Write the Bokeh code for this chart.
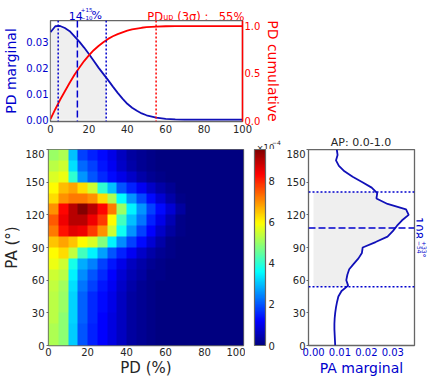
import numpy as np
from bokeh.plotting import figure
from bokeh.layouts import column, row
from bokeh.models import (Range1d, LinearAxis, LinearColorMapper, ColorBar,
                          FixedTicker, Span, NumeralTickFormatter)
from bokeh.core.properties import value
from bokeh.embed import file_html
from bokeh.resources import INLINE

# ------------------------------------------------------------------ data
# PD marginal and cumulative (top panel)
pd_grid = [0, 2.5, 5, 7.5, 10, 12.5, 15, 17.5, 20, 22.5, 25, 27.5, 30, 32.5, 35,
           37.5, 40, 42.5, 45, 47.5, 50, 55, 60, 65, 70, 80, 90, 100]
pd_marginal = [0.0336, 0.0359, 0.0360, 0.0352, 0.0340, 0.0320, 0.0300, 0.0277,
               0.0252, 0.0226, 0.0200, 0.0176, 0.0152, 0.0127, 0.0103, 0.0081,
               0.0061, 0.0046, 0.0034, 0.0024, 0.0017, 0.0008, 0.0003, 0.0001,
               0.0, 0.0, 0.0, 0.0]
pd_cumulative = [0.015, 0.12, 0.22, 0.31, 0.40, 0.485, 0.56, 0.63, 0.69, 0.745,
                 0.79, 0.83, 0.865, 0.893, 0.916, 0.935, 0.952, 0.965, 0.975,
                 0.983, 0.989, 0.996, 0.999, 1.0, 1.0, 1.0, 1.0, 1.0]
pd_med, pd_lo, pd_hi, pd_up = 14, 4, 29, 55

# PA marginal (right panel)
pa_grid = list(range(0, 181, 5))
pa_marginal = [0.0082, 0.0081, 0.0080, 0.0079, 0.0079, 0.0080, 0.0082, 0.0085,
               0.0089, 0.0094, 0.0106, 0.0131, 0.0124, 0.0128, 0.0135, 0.0152,
               0.0170, 0.0183, 0.0186, 0.0235, 0.0280, 0.0300, 0.0316, 0.0335,
               0.0360, 0.0350, 0.0280, 0.0238, 0.0241, 0.0220, 0.0185, 0.0148,
               0.0117, 0.0096, 0.0085, 0.0091, 0.0088]
pa_med, pa_lo, pa_hi = 108, 54, 141

# joint PD-PA density (x1e-4); rows = PA bins 5..175, cols = PD bins 2.5..67.5
heat_pd_centers = [2.5, 7.5, 12.5, 17.5, 22.5, 27.5, 32.5, 37.5, 42.5, 47.5, 52.5, 57.5, 62.5, 67.5]
heat_pa_centers = [5, 15, 25, 35, 45, 55, 65, 75, 85, 95, 105, 115, 125, 135, 145, 155, 165, 175]
heat_rows = [
    [5.2, 4.9, 3.1, 2.0, 1.5, 1.2, 0.9, 0.6, 0.3, 0.2, 0.1, 0.0, 0.0, 0.0],
    [5.2, 4.9, 3.1, 2.0, 1.5, 1.2, 0.9, 0.6, 0.3, 0.2, 0.1, 0.0, 0.0, 0.0],
    [5.3, 4.9, 3.2, 2.1, 1.6, 1.2, 0.9, 0.6, 0.3, 0.2, 0.1, 0.0, 0.0, 0.0],
    [5.3, 5.0, 3.2, 2.1, 1.6, 1.3, 1.0, 0.6, 0.3, 0.2, 0.1, 0.0, 0.0, 0.0],
    [5.3, 5.0, 3.2, 2.1, 1.6, 1.3, 1.0, 0.6, 0.3, 0.2, 0.1, 0.0, 0.0, 0.0],
    [5.4, 5.1, 3.3, 2.3, 1.8, 1.4, 1.1, 0.7, 0.4, 0.2, 0.1, 0.0, 0.0, 0.0],
    [5.5, 5.3, 3.5, 2.5, 2.0, 1.6, 1.2, 0.8, 0.5, 0.3, 0.1, 0.1, 0.0, 0.0],
    [5.8, 5.5, 3.8, 2.8, 2.4, 1.8, 1.4, 1.0, 0.6, 0.4, 0.2, 0.1, 0.0, 0.0],
    [6.0, 6.3, 5.4, 4.2, 3.5, 2.7, 2.0, 1.5, 1.1, 0.7, 0.4, 0.2, 0.1, 0.0],
    [6.5, 6.8, 6.5, 6.0, 5.6, 4.8, 3.5, 2.5, 1.8, 1.3, 0.8, 0.4, 0.1, 0.0],
    [7.2, 8.2, 8.6, 8.5, 7.8, 7.0, 5.5, 3.7, 2.6, 1.8, 1.2, 0.7, 0.3, 0.1],
    [7.5, 8.5, 9.0, 9.0, 8.5, 7.8, 6.0, 4.2, 3.0, 2.3, 1.5, 1.0, 0.5, 0.1],
    [7.0, 8.3, 9.0, 9.5, 9.0, 8.3, 7.2, 5.0, 3.5, 2.6, 1.8, 1.3, 0.8, 0.3],
    [6.3, 7.0, 7.2, 7.2, 7.0, 6.3, 5.2, 3.6, 2.6, 1.9, 1.3, 0.8, 0.4, 0.1],
    [6.0, 6.6, 6.8, 6.3, 5.5, 4.0, 3.0, 2.0, 1.5, 1.1, 0.7, 0.4, 0.2, 0.0],
    [5.6, 5.8, 4.0, 2.6, 2.0, 1.6, 1.3, 1.0, 0.7, 0.4, 0.2, 0.1, 0.0, 0.0],
    [5.3, 5.5, 3.3, 2.2, 1.8, 1.4, 1.1, 0.7, 0.4, 0.2, 0.1, 0.0, 0.0, 0.0],
    [5.0, 5.2, 3.0, 1.8, 1.5, 1.3, 1.0, 0.6, 0.3, 0.2, 0.1, 0.0, 0.0, 0.0],
]
heat_max = 9.55

pd_ticks = [0, 20, 40, 60, 80, 100]
pa_ticks = [0, 30, 60, 90, 120, 150, 180]
cbar_ticks = [0, 2, 4, 6, 8]

# ------------------------------------------------------------------ style
FONT = "DejaVu Sans"
BLUE = "#0000CD"
LBLUE = "#1010B8"
RED = "#FF0000"
GRAY = "#666666"
TXT = "#262626"
FILL = "#EFEFEF"
TICK_FS = "10px"


def jet_palette(n=256):
    t = np.linspace(0, 1, n)
    r = np.clip(1.5 - np.abs(4 * t - 3), 0, 1)
    g = np.clip(1.5 - np.abs(4 * t - 2), 0, 1)
    b = np.clip(1.5 - np.abs(4 * t - 1), 0, 1)
    return ["#%02x%02x%02x" % (int(round(255 * a)), int(round(255 * c)), int(round(255 * d)))
            for a, c, d in zip(r, g, b)]


def make_fig(**kw):
    f = figure(title=None, output_backend="svg", toolbar_location=None, **kw)
    if "frame_align" in f.properties():
        f.frame_align = False
    return f


def base_axes(p):
    p.grid.visible = False
    p.outline_line_color = GRAY
    p.outline_line_width = 1.3
    for ax in p.xaxis + p.yaxis:
        ax.axis_line_color = None
        ax.major_tick_out = 2
        ax.major_tick_in = 0
        ax.minor_tick_line_color = None
        ax.major_tick_line_color = GRAY
        ax.major_label_text_font = FONT
        ax.major_label_text_font_size = TICK_FS
        ax.major_label_text_color = TXT
        ax.major_label_standoff = 2
        ax.axis_label_text_font = FONT
        ax.axis_label_text_font_style = "normal"
        ax.axis_label_text_color = TXT


def text_canvas(w, h, x0, y0):
    """A borderless figure whose frame spans page pixels x0..x0+w, y0..y0+h."""
    return make_fig(width=w, height=h, x_range=Range1d(x0, x0 + w), y_range=Range1d(y0 + h, y0),
                    x_axis_type=None, y_axis_type=None,
                    min_border_left=0, min_border_right=0, min_border_top=0, min_border_bottom=0,
                    outline_line_color=None)


def words(f, xs, ys, texts, size, color, angle=0.0, align="left", baseline="alphabetic"):
    f.text(x=xs, y=ys, text=texts, text_font=value(FONT), text_font_size=value(size),
           text_color=color, angle=angle, text_align=align, text_baseline=baseline)


# ------------------------------------------------------------------ title strip over top panel
tA = text_canvas(290, 20, 0, 0)
words(tA, [68.3, 91], [15, 15], ["14", "%"], "11px", BLUE)
words(tA, [80.3], [9.3], ["+15"], "5.5px", BLUE)
words(tA, [80.3], [16.5], ["\u221210"], "5.5px", BLUE)
words(tA, [146.7, 176.7, 218.3], [16.5, 16.5, 16.5], ["PD", "(3\u03c3) :", "55%"], "11.5px", RED)
words(tA, [162.7], [17.2], ["up"], "8px", RED)

# ------------------------------------------------------------------ top panel
p1 = make_fig(width=290, height=115, x_range=Range1d(0, 100),
              y_range=Range1d(-0.0007, 0.0381),
              min_border_left=48, min_border_right=48, min_border_top=0,
              min_border_bottom=14)
p1.extra_y_ranges = {"cum": Range1d(-0.01, 1.06)}
cum_axis = LinearAxis(y_range_name="cum")
p1.add_layout(cum_axis, "right")
base_axes(p1)
for ax in p1.xaxis + p1.yaxis:
    ax.major_tick_out = 0
p1.xaxis.major_label_standoff = 3
p1.xaxis.ticker = FixedTicker(ticks=pd_ticks)
left_axis = p1.yaxis[0]
left_axis.ticker = FixedTicker(ticks=[0, 0.01, 0.02, 0.03])
left_axis.formatter = NumeralTickFormatter(format="0.00")
left_axis.major_label_text_color = BLUE
left_axis.axis_label = "PD marginal"
left_axis.axis_label_text_color = BLUE
left_axis.axis_label_text_font_size = "14px"
left_axis.axis_label_standoff = 4
cum_axis.ticker = FixedTicker(ticks=[0, 0.5, 1.0])
cum_axis.formatter = NumeralTickFormatter(format="0.0")
cum_axis.major_label_text_color = RED
cum_axis.axis_line_color = RED
cum_axis.axis_line_width = 1.5
cum_axis.axis_label = "PD cumulative"
cum_axis.axis_label_text_color = RED
cum_axis.axis_label_text_font_size = "14px"
cum_axis.axis_label_standoff = 2

fx = [v for v in pd_grid if v < pd_hi] + [pd_hi]
fy = [m for v, m in zip(pd_grid, pd_marginal) if v < pd_hi] + \
     [float(np.interp(pd_hi, pd_grid, pd_marginal))]
p1.varea(x=fx, y1=0, y2=fy, fill_color=FILL)
p1.add_layout(Span(location=pd_lo, dimension="height", line_color=BLUE, line_dash="2 2", line_width=1.5))
p1.add_layout(Span(location=pd_hi, dimension="height", line_color=BLUE, line_dash="2 2", line_width=1.5))
p1.add_layout(Span(location=pd_med, dimension="height", line_color=BLUE, line_dash="7 3", line_width=1.5))
p1.add_layout(Span(location=pd_up, dimension="height", line_color=RED, line_dash="2 2", line_width=1.5))
p1.line(pd_grid, pd_marginal, line_color=LBLUE, line_width=1.8)
p1.line(pd_grid, pd_cumulative, line_color=RED, line_width=1.8, y_range_name="cum")

# ------------------------------------------------------------------ strip above the lower panels
tC = text_canvas(436, 14, 0, 135)
words(tC, [256], [147], ["\u00d710"], "8.5px", TXT)
words(tC, [271.5], [142.3], ["\u22124"], "6px", TXT)
words(tC, [360.5], [141.5], ["AP: 0.0-1.0"], "11px", TXT, align="center", baseline="middle")

# ------------------------------------------------------------------ heatmap
mapper = LinearColorMapper(palette=jet_palette(), low=0, high=heat_max)
p2 = make_fig(width=245, height=233, x_range=Range1d(0, 100), y_range=Range1d(0, 180),
              min_border_left=48, min_border_right=2, min_border_top=0,
              min_border_bottom=37)
base_axes(p2)
p2.xaxis.ticker = FixedTicker(ticks=pd_ticks)
p2.xaxis.major_tick_out = 0
p2.xaxis.axis_label = "PD (%)"
p2.xaxis.axis_label_text_font_size = "15px"
p2.xaxis.axis_label_standoff = 0
p2.yaxis.ticker = FixedTicker(ticks=pa_ticks)
p2.yaxis.axis_label = "PA (\u00b0)"
p2.yaxis.axis_label_text_font_size = "15px"
p2.yaxis.axis_label_standoff = 1
heat = np.hstack([np.array(heat_rows), np.zeros((len(heat_pa_centers), 6))])
p2.image(image=[heat], x=0, y=0, dw=100, dh=180, color_mapper=mapper)

# colour bar in its own narrow strip
pcb = text_canvas(38, 233, 245, 149)
cb = ColorBar(color_mapper=mapper, ticker=FixedTicker(ticks=cbar_ticks),
              location=(9, 37), width=11, height=196, padding=0, margin=0,
              label_standoff=3, major_tick_line_color=None,
              bar_line_color=GRAY, bar_line_width=1.2,
              border_line_color=None, background_fill_alpha=0,
              major_label_text_font=FONT, major_label_text_font_size=TICK_FS,
              major_label_text_color=TXT)
pcb.add_layout(cb)

# ------------------------------------------------------------------ PA marginal
p3 = make_fig(width=133, height=233, x_range=Range1d(-0.0019, 0.0382), y_range=Range1d(0, 180),
              min_border_left=23, min_border_right=2, min_border_top=0,
              min_border_bottom=37)
base_axes(p3)
p3.xaxis.ticker = FixedTicker(ticks=[0, 0.01, 0.02, 0.03])
p3.xaxis.formatter = NumeralTickFormatter(format="0.00")
p3.xaxis.major_label_text_color = BLUE
p3.xaxis.major_tick_out = 0
p3.xaxis.axis_label = "PA marginal"
p3.xaxis.axis_label_text_color = BLUE
p3.xaxis.axis_label_text_font_size = "14px"
p3.xaxis.axis_label_standoff = 1
p3.yaxis.ticker = FixedTicker(ticks=pa_ticks)
p3.yaxis.major_label_standoff = 1

hy = [pa_lo] + [v for v in pa_grid if pa_lo < v < pa_hi] + [pa_hi]
hx = [float(np.interp(pa_lo, pa_grid, pa_marginal))] + \
     [m for v, m in zip(pa_grid, pa_marginal) if pa_lo < v < pa_hi] + \
     [float(np.interp(pa_hi, pa_grid, pa_marginal))]
p3.harea(y=hy, x1=0, x2=hx, fill_color=FILL)
p3.add_layout(Span(location=pa_lo, dimension="width", line_color=BLUE, line_dash="2 2", line_width=1.5))
p3.add_layout(Span(location=pa_hi, dimension="width", line_color=BLUE, line_dash="2 2", line_width=1.5))
p3.add_layout(Span(location=pa_med, dimension="width", line_color=BLUE, line_dash="7 3", line_width=1.5))
p3.line(pa_marginal, pa_grid, line_color=LBLUE, line_width=1.8)

# rotated PA estimate to the right of the PA panel
p4 = text_canvas(20, 233, 416, 149)
rot = -np.pi / 2
words(p4, [418.3], [216.5], ["108"], "11.5px", BLUE, angle=rot)
words(p4, [424.3], [240.5], ["+33"], "6px", BLUE, angle=rot)
words(p4, [418.6], [240.5], ["\u221254"], "6px", BLUE, angle=rot)
words(p4, [420.5], [253], ["\u00b0"], "8px", BLUE, angle=rot)

layout = column(tA, p1, tC, row(p2, pcb, p3, p4))
open("out.html", "w").write(file_html(layout, INLINE))
